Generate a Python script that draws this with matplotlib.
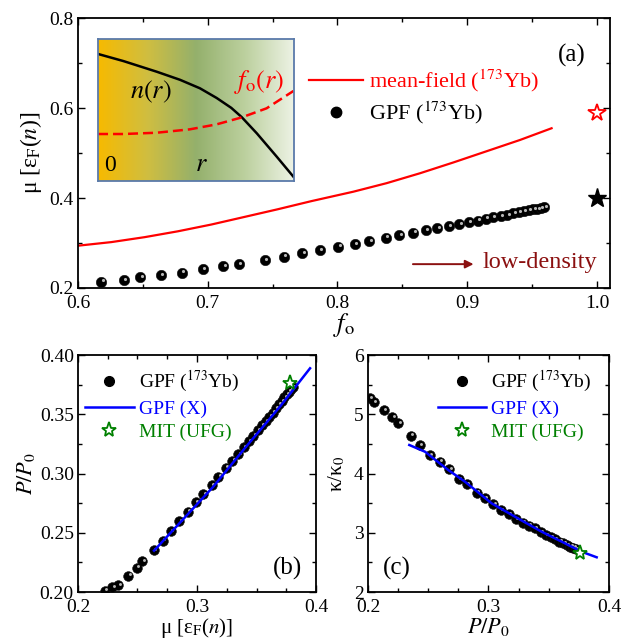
import matplotlib
matplotlib.use('Agg')
import matplotlib.pyplot as plt
import numpy as np
from matplotlib.colors import LinearSegmentedColormap
from matplotlib.lines import Line2D
from matplotlib.ticker import MultipleLocator
from matplotlib.transforms import offset_copy

plt.rcParams['font.family'] = ['Liberation Serif', 'DejaVu Serif']
plt.rcParams['mathtext.fontset'] = 'stix'

# ---- panel (a) data ----
f_gpf = [0.618, 0.6355, 0.648, 0.664, 0.680, 0.696, 0.712, 0.724, 0.744, 0.7585,
         0.773, 0.7865, 0.8006, 0.8135, 0.8245, 0.8374, 0.8476, 0.8585, 0.8682, 0.877,
         0.886, 0.894, 0.9013, 0.908, 0.9145, 0.920, 0.9258, 0.931, 0.9355, 0.940,
         0.9437, 0.9476, 0.951, 0.954, 0.9568, 0.9594]
mu_gpf = [0.214, 0.218, 0.224, 0.229, 0.234, 0.2415, 0.249, 0.253, 0.262, 0.2696,
          0.277, 0.2844, 0.292, 0.2978, 0.305, 0.312, 0.317, 0.323, 0.329, 0.333,
          0.338, 0.342, 0.347, 0.3496, 0.354, 0.357, 0.360, 0.362, 0.366, 0.369,
          0.3704, 0.373, 0.375, 0.376, 0.378, 0.379]
f_mf = [0.600, 0.6257, 0.6514, 0.677, 0.7027, 0.7284, 0.754, 0.7798, 0.8122, 0.8379,
        0.8636, 0.8893, 0.915, 0.9407, 0.965]
mu_mf = [0.294, 0.302, 0.313, 0.326, 0.341, 0.358, 0.375, 0.393, 0.414, 0.433,
         0.455, 0.479, 0.504, 0.529, 0.555]
star_f = 1.0
star_mu_red = 0.59
star_mu_black = 0.40

# inset profiles (r normalised to 1)
r_n = [0.002, 0.129, 0.299, 0.418, 0.520, 0.605, 0.680, 0.733, 0.810, 0.912, 0.997]
n_r = [0.894, 0.845, 0.770, 0.713, 0.653, 0.585, 0.515, 0.450, 0.336, 0.171, 0.030]
r_f = [0.0, 0.129, 0.299, 0.469, 0.605, 0.733, 0.86, 0.997]
f_r = [0.331, 0.331, 0.340, 0.364, 0.399, 0.448, 0.512, 0.634]

# ---- panel (b) data ----
mu_b = [0.2227, 0.2289, 0.2339, 0.2423, 0.2493, 0.254, 0.2639, 0.2711, 0.2782, 0.2852,
        0.2922, 0.2992, 0.3053, 0.3123, 0.3179, 0.3241, 0.3297, 0.3347, 0.3395, 0.3437,
        0.3473, 0.351, 0.3544, 0.3577, 0.3608, 0.3636, 0.3664, 0.3689, 0.3712, 0.3734,
        0.3754, 0.3773, 0.379, 0.3804]
P_b = [0.2011, 0.204, 0.2059, 0.2138, 0.2205, 0.226, 0.2354, 0.2433, 0.2515, 0.26,
       0.2678, 0.2757, 0.2827, 0.2903, 0.2973, 0.3049, 0.3108, 0.3165, 0.3221, 0.3274,
       0.3319, 0.3367, 0.3409, 0.3443, 0.3479, 0.3513, 0.355, 0.3584, 0.3612, 0.3643,
       0.3668, 0.369, 0.3711, 0.373]
mu_bx = [0.2639, 0.2857, 0.3137, 0.3417, 0.3697, 0.395]
P_bx = [0.2349, 0.2585, 0.2889, 0.3232, 0.3564, 0.3888]
mit_mu, mit_P = 0.3782, 0.3761

# ---- panel (c) data ----
P_c = [0.2017, 0.2052, 0.2135, 0.2202, 0.2252, 0.2357, 0.2432, 0.2515, 0.2598, 0.2675,
       0.2755, 0.2819, 0.2902, 0.2971, 0.304, 0.3101, 0.317, 0.3225, 0.3284, 0.3336,
       0.3386, 0.3433, 0.3475, 0.3516, 0.3552, 0.3588, 0.3621, 0.3651, 0.3679, 0.3704,
       0.3726]
k_c = [5.269, 5.201, 5.072, 4.948, 4.847, 4.638, 4.481, 4.312, 4.2, 4.071,
       3.902, 3.817, 3.676, 3.581, 3.48, 3.384, 3.316, 3.227, 3.17, 3.12,
       3.075, 3.008, 2.962, 2.923, 2.889, 2.849, 2.822, 2.793, 2.765, 2.748,
       2.726]
P_cx = [0.2343, 0.2473, 0.2666, 0.2805, 0.3026, 0.322, 0.3441, 0.3635, 0.3773, 0.3898]
k_cx = [4.481, 4.368, 4.059, 3.862, 3.497, 3.271, 3.018, 2.822, 2.68, 2.586]
mit_Pc, mit_k = 0.376, 2.653

fig = plt.figure(figsize=(6.3, 6.43), dpi=100)
ax1 = fig.add_axes([0.1238, 0.5521, 0.8444, 0.4199])
ax2 = fig.add_axes([0.1238, 0.0793, 0.3778, 0.3686])
ax3 = fig.add_axes([0.5841, 0.0793, 0.3825, 0.3686])


def style(ax, xmaj, xmin, ymaj, ymin):
    ax.xaxis.set_major_locator(MultipleLocator(xmaj))
    ax.xaxis.set_minor_locator(MultipleLocator(xmin))
    ax.yaxis.set_major_locator(MultipleLocator(ymaj))
    ax.yaxis.set_minor_locator(MultipleLocator(ymin))
    ax.tick_params(which='both', direction='in', top=True, right=True, labelsize=14, width=1.0)
    ax.tick_params(which='major', length=5)
    ax.tick_params(which='minor', length=3)
    ax.tick_params(axis='x', which='major', pad=5)
    ax.tick_params(axis='y', which='major', pad=3)
    for s in ax.spines.values():
        s.set_linewidth(1.3)


def balls(ax, x, y, ms=7):
    ax.plot(x, y, 'o', ms=ms, mfc='black', mec='#111111', mew=0.4, ls='none', zorder=3)
    tr = offset_copy(ax.transData, fig=fig, x=0.9, y=0.9, units='points')
    ax.plot(x, y, 'o', ms=ms * 0.3, mfc='#b8b8b8', mec='none', ls='none',
            transform=tr, zorder=4)


# ---------------- (a) ----------------
ax1.plot(f_mf, mu_mf, color='red', lw=1.6)
balls(ax1, f_gpf, mu_gpf, ms=7.5)
ax1.plot(star_f, star_mu_red, marker='*', ms=13, mfc='white', mec='red', mew=1.3, ls='none')
ax1.plot(star_f, star_mu_black, marker='*', ms=14, color='black', ls='none')
ax1.set_xlim(0.6, 1.01)
ax1.set_ylim(0.2, 0.8)
style(ax1, 0.1, 0.05, 0.2, 0.1)
ax1.set_xticks([0.6, 0.7, 0.8, 0.9, 1.0])
ax1.set_xticklabels(['0.6', '0.7', '0.8', '0.9', '1.0'])
ax1.set_xlabel(r'$f_\mathrm{o}$', fontsize=19, labelpad=-1)
ax1.set_ylabel(r'μ [ε$_\mathrm{F}$($n$)]', fontsize=17, labelpad=4)
ax1.text(0.929, 0.86, '(a)', transform=ax1.transAxes, fontsize=18, ha='center', va='center')
ax1.annotate('', xy=(0.907, 0.253), xytext=(0.856, 0.253),
             arrowprops=dict(arrowstyle='-|>', color='#8B1010', lw=1.4, mutation_scale=12))
ax1.text(0.912, 0.257, 'low-density', color='#8B1010', fontsize=17.5, ha='left', va='center')
h_a = [Line2D([], [], color='red', lw=1.6),
       Line2D([], [], marker='o', color='black', ls='none', ms=7.5)]
ax1.legend(h_a, ['mean-field ($^{173}$Yb)', 'GPF ($^{173}$Yb)'], loc='upper left',
           bbox_to_anchor=(0.435, 0.815), frameon=False, fontsize=16, handlelength=2.4,
           handletextpad=0.3, labelspacing=0.22, borderpad=0, borderaxespad=0,
           labelcolor=['red', 'black'])

# inset
axi = fig.add_axes([0.1556, 0.7185, 0.3111, 0.2208])
cmap = LinearSegmentedColormap.from_list(
    'bg', [(0.0, '#F7BA00'), (0.25, '#D0BE40'), (0.5, '#94B06C'),
           (0.75, '#BCD09E'), (1.0, '#EDF2E4')])
axi.imshow(np.linspace(0, 1, 256)[None, :], aspect='auto', cmap=cmap,
           extent=[0, 1, 0, 1], zorder=0)
axi.plot(r_n, n_r, color='black', lw=1.8)
axi.plot(r_f, f_r, color='red', lw=1.8, ls=(0, (4, 2)))
axi.set_xlim(0, 1)
axi.set_ylim(0, 1)
axi.set_xticks([])
axi.set_yticks([])
for s in axi.spines.values():
    s.set_color('#5A7AAA')
    s.set_linewidth(1.3)
axi.text(0.27, 0.63, r'$n(r)$', fontsize=19, ha='center', va='center')
axi.text(0.82, 0.70, r'$f_\mathrm{o}(r)$', fontsize=19, ha='center', va='center', color='red')
axi.text(0.06, 0.11, '0', fontsize=17, ha='center', va='center')
axi.text(0.53, 0.11, r'$r$', fontsize=19, ha='center', va='center')

# ---------------- (b) ----------------
balls(ax2, mu_b, P_b, ms=7)
ax2.plot(mu_bx, P_bx, color='blue', lw=1.8, zorder=5)
ax2.plot(mit_mu, mit_P, marker='*', ms=11, mfc='white', mec='green', mew=1.3, ls='none', zorder=6)
ax2.set_xlim(0.2, 0.4)
ax2.set_ylim(0.2, 0.4)
style(ax2, 0.1, 0.025, 0.05, 0.025)
ax2.set_xticks([0.2, 0.3, 0.4])
ax2.set_xticklabels(['0.2', '0.3', '0.4'])
ax2.set_yticks([0.20, 0.25, 0.30, 0.35, 0.40])
ax2.set_yticklabels(['0.20', '0.25', '0.30', '0.35', '0.40'])
ax2.set_xlabel(r'μ [ε$_\mathrm{F}$($n$)]', fontsize=15, labelpad=0)
ax2.set_ylabel(r'$P/P_0$', fontsize=16, labelpad=2)
ax2.text(0.88, 0.1, '(b)', transform=ax2.transAxes, fontsize=18, ha='center', va='center')

h_bc = [Line2D([], [], marker='o', color='black', ls='none', ms=7),
        Line2D([], [], color='blue', lw=1.8),
        Line2D([], [], marker='*', ms=11, mfc='white', mec='green', mew=1.3, ls='none')]
lab_bc = ['GPF ($^{173}$Yb)', 'GPF (X)', 'MIT (UFG)']
ax2.legend(h_bc, lab_bc, loc='upper left', bbox_to_anchor=(0.03, 0.94), frameon=False,
           fontsize=14, handlelength=2.5, handletextpad=0.25, labelspacing=0.3,
           borderpad=0, borderaxespad=0, labelcolor=['black', 'blue', 'green'])

# ---------------- (c) ----------------
balls(ax3, P_c, k_c, ms=7)
ax3.plot(P_cx, k_cx, color='blue', lw=1.8, zorder=5)
ax3.plot(mit_Pc, mit_k, marker='*', ms=11, mfc='white', mec='green', mew=1.3, ls='none', zorder=6)
ax3.set_xlim(0.2, 0.4)
ax3.set_ylim(2, 6)
style(ax3, 0.1, 0.025, 1, 0.5)
ax3.set_xticks([0.2, 0.3, 0.4])
ax3.set_xticklabels(['0.2', '0.3', '0.4'])
ax3.set_xlabel(r'$P/P_0$', fontsize=16, labelpad=0)
ax3.set_ylabel(r'κ/κ$_0$', fontsize=15, labelpad=5)
ax3.text(0.12, 0.1, '(c)', transform=ax3.transAxes, fontsize=18, ha='center', va='center')
ax3.legend(h_bc, lab_bc, loc='upper left', bbox_to_anchor=(0.29, 0.94), frameon=False,
           fontsize=14, handlelength=2.5, handletextpad=0.25, labelspacing=0.3,
           borderpad=0, borderaxespad=0, labelcolor=['black', 'blue', 'green'])

fig.savefig('out.png', dpi=100)
